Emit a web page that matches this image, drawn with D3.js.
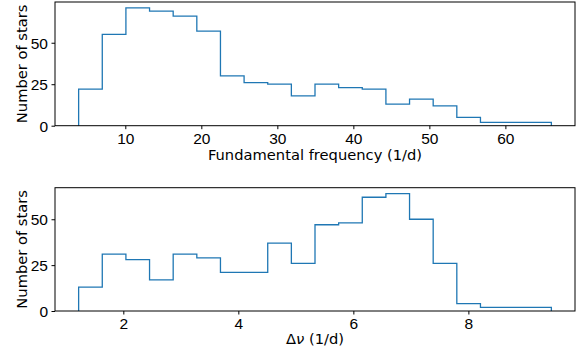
<!DOCTYPE html>
<html>
<head>
<meta charset="utf-8">
<script src="https://cdn.jsdelivr.net/npm/d3@7"></script>
<style>
  body { margin: 0; background: #fff; }
  svg { display: block; font-family: "DejaVu Sans", sans-serif; }
  .tick text { font-size: 15.5px; fill: #000; }
  .tick line { stroke: #000; }
</style>
</head>
<body>
<div id="chart"></div>
<script>
// histogram counts, 20 equal bins each
const freqRange = [3.86, 66.05];
const freqCounts = [22, 55, 71, 69, 66, 57, 30, 26, 25, 18, 25, 23, 22, 13, 16, 12, 5, 2, 2, 2];
const freqTicks = [10, 20, 30, 40, 50, 60];

const dnuRange = [1.223, 9.443];
const dnuCounts = [13, 31, 28, 17, 31, 29, 21, 21, 37, 26, 47, 48, 62, 64, 50, 26, 4, 2, 2, 2];
const dnuTicks = [2, 4, 6, 8];

const countTicks = [0, 25, 50];

const W = 584, H = 356;
const left = 55, right = 575;

const svg = d3.select("#chart").append("svg")
  .attr("width", W)
  .attr("height", H);

function panel(range, counts, xTicks, top, bottom) {
  // matplotlib style 5% margin on x, 5% headroom on y
  const pad = (range[1] - range[0]) * 0.05;
  const x = d3.scaleLinear().domain([range[0] - pad, range[1] + pad]).range([left, right]);
  const y = d3.scaleLinear().domain([0, d3.max(counts) * 1.05]).range([bottom, top]);

  const n = counts.length;
  const w = (range[1] - range[0]) / n;
  // step outline, closed to the baseline at both ends
  const pts = [[range[0], 0]];
  counts.forEach((c, i) => {
    pts.push([range[0] + i * w, c]);
    pts.push([range[0] + (i + 1) * w, c]);
  });
  pts.push([range[1], 0]);

  const g = svg.append("g");

  g.append("path")
    .attr("d", d3.line().x(d => x(d[0])).y(d => y(d[1]))(pts))
    .attr("fill", "none")
    .attr("stroke", "#1f77b4")
    .attr("stroke-width", 1.3);

  g.append("g")
    .attr("transform", `translate(0,${bottom})`)
    .call(d3.axisBottom(x).tickValues(xTicks).tickFormat(d3.format("d")).tickSize(3.5).tickPadding(3.5))
    .call(a => a.select(".domain").remove());

  g.append("g")
    .attr("transform", `translate(${left},0)`)
    .call(d3.axisLeft(y).tickValues(countTicks).tickSize(3.5).tickPadding(3.5))
    .call(a => a.select(".domain").remove())
    .selectAll("text").attr("dy", "0.36em");

  g.append("rect")
    .attr("x", left)
    .attr("y", top)
    .attr("width", right - left)
    .attr("height", bottom - top)
    .attr("fill", "none")
    .attr("stroke", "#000")
    .attr("stroke-width", 1);

  const cy = (top + bottom) / 2;
  g.append("text")
    .attr("transform", `translate(26.5,${cy}) rotate(-90)`)
    .attr("text-anchor", "middle")
    .attr("font-size", "14.7px")
    .text("Number of stars");

  return { x, y, g };
}

const p1 = panel(freqRange, freqCounts, freqTicks, 2, 125.7);
p1.g.append("text")
  .attr("x", (left + right) / 2)
  .attr("y", 159.5)
  .attr("text-anchor", "middle")
  .attr("font-size", "14.7px")
  .text("Fundamental frequency (1/d)");

const p2 = panel(dnuRange, dnuCounts, dnuTicks, 187.7, 311);
const lab = p2.g.append("text")
  .attr("x", (left + right) / 2)
  .attr("y", 343.5)
  .attr("text-anchor", "middle")
  .attr("font-size", "14.7px");
lab.append("tspan").text("Δ");
lab.append("tspan").attr("font-style", "italic").text("ν");
lab.append("tspan").text(" (1/d)");
</script>
</body>
</html>
